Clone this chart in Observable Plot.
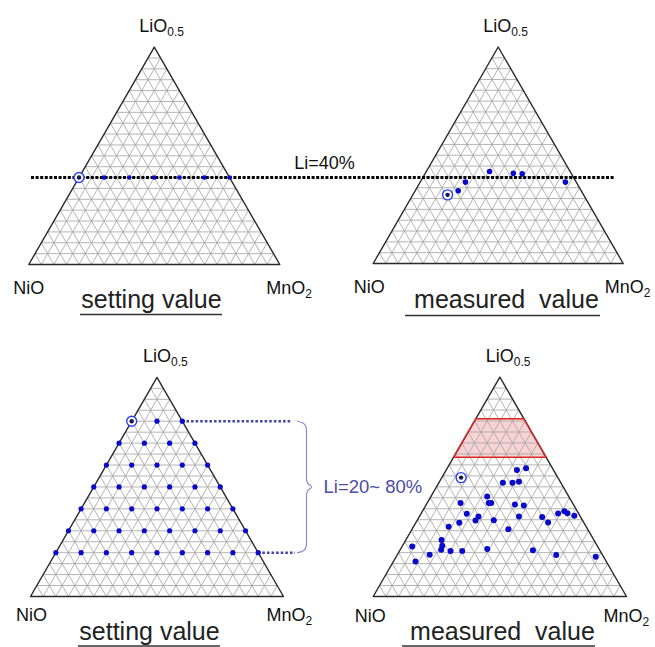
<!DOCTYPE html>
<html><head><meta charset="utf-8">
<script src="https://cdn.jsdelivr.net/npm/d3@7"></script>
<script src="https://cdn.jsdelivr.net/npm/@observablehq/plot@0.6"></script>
<style>
body{margin:0;background:#fff}
svg{display:block}
svg text{white-space:pre}
</style>
</head><body><div id="chart"></div>
<script>
// ---------------- DATA (ternary fractions: Li = LiO0.5, Mn = MnO2, Ni = NiO) ----------------
// Top-left: setting values on the Li = 40% line
const settingTopLi = [0.4, 0.4, 0.4, 0.4, 0.4, 0.4, 0.4];
const settingTopMn = [0.0, 0.1, 0.2, 0.3, 0.4, 0.5, 0.6];
const settingTopNi = [0.6, 0.5, 0.4, 0.3, 0.2, 0.1, 0.0];
const settingTopMarked = 0; // index of circled sample

// Top-right: measured values
const measuredTopLi = [0.317, 0.336, 0.376, 0.425, 0.417, 0.414, 0.376];
const measuredTopMn = [0.139, 0.172, 0.181, 0.253, 0.352, 0.389, 0.581];
const measuredTopNi = [0.544, 0.492, 0.443, 0.322, 0.231, 0.197, 0.043];
const measuredTopMarked = 0;

// Bottom-left: setting values, Li = 20 ~ 80 %
const settingBotLi = [0.8,0.8,0.8, 0.7,0.7,0.7,0.7, 0.6,0.6,0.6,0.6,0.6,
  0.5,0.5,0.5,0.5,0.5,0.5, 0.4,0.4,0.4,0.4,0.4,0.4,0.4,
  0.3,0.3,0.3,0.3,0.3,0.3,0.3,0.3, 0.2,0.2,0.2,0.2,0.2,0.2,0.2,0.2,0.2];
const settingBotMn = [0.0,0.1,0.2, 0.0,0.1,0.2,0.3, 0.0,0.1,0.2,0.3,0.4,
  0.0,0.1,0.2,0.3,0.4,0.5, 0.0,0.1,0.2,0.3,0.4,0.5,0.6,
  0.0,0.1,0.2,0.3,0.4,0.5,0.6,0.7, 0.0,0.1,0.2,0.3,0.4,0.5,0.6,0.7,0.8];
const settingBotNi = [0.2,0.1,0.0, 0.3,0.2,0.1,0.0, 0.4,0.3,0.2,0.1,0.0,
  0.5,0.4,0.3,0.2,0.1,0.0, 0.6,0.5,0.4,0.3,0.2,0.1,0.0,
  0.7,0.6,0.5,0.4,0.3,0.2,0.1,0.0, 0.8,0.7,0.6,0.5,0.4,0.3,0.2,0.1,0.0];
const settingBotMarked = 0;

// Bottom-right: measured values
const measuredBotLi = [0.542,0.577,0.585,0.518,0.518,0.523,0.456,0.426,0.426,0.426,0.419,0.415,
  0.377,0.365,0.346,0.365,0.348,0.336,0.318,0.307,0.362,0.337,0.378,0.389,0.380,0.368,
  0.258,0.231,0.213,0.207,0.207,0.217,0.228,0.190,0.160,0.211,0.189,0.181];
const measuredBotMn = [0.076,0.279,0.311,0.253,0.291,0.314,0.222,0.132,0.243,0.253,0.350,0.387,
  0.181,0.233,0.231,0.393,0.302,0.172,0.139,0.380,0.486,0.522,0.541,0.560,0.577,0.610,
  0.141,0.157,0.162,0.202,0.248,0.342,0.040,0.128,0.087,0.525,0.628,0.788];
const measuredBotNi = [0.382,0.144,0.104,0.229,0.191,0.163,0.322,0.442,0.331,0.321,0.231,0.198,
  0.442,0.402,0.423,0.242,0.350,0.492,0.543,0.313,0.152,0.141,0.081,0.051,0.043,0.022,
  0.601,0.612,0.625,0.591,0.545,0.441,0.732,0.682,0.753,0.264,0.183,0.031];
const measuredBotMarked = 0;

// Unreached Li band highlighted in the bottom-right diagram
const bandLi = [0.81, 0.635];

// Texts
const apexLabel = ["LiO", "0.5"];
const leftLabel = "NiO";
const rightLabel = ["MnO", "2"];
const captions = ["setting value", " measured  value", "setting value", " measured  value"];
const noteTop = "Li=40%";
const noteTopLi = 0.4;
const noteBottom = "Li=20~ 80%";
const noteBottomLi = [0.8, 0.2];

// ---------------- LAYOUT ----------------
const SQ = Math.sqrt(3) / 2;
const panels = [
  {id: "TL", x0: 28.3, base: 264, side: 251, nDx: 0, mDx: 25.5, lab: 29, ax: 13, ay: 15, capX: 151, capY: 307, ul: [80, 222], ulY: 314},
  {id: "TR", x0: 372.7, base: 263, side: 250, nDx: -4, mDx: 20.5, lab: 29, ax: 13, ay: 15, capX: 502.5, capY: 307, ul: [405, 600], ulY: 315},
  {id: "BL", x0: 30, base: 596, side: 253, nDx: 1, mDx: 22, lab: 24, ax: 14, ay: 15, capX: 149, capY: 639, ul: [78, 220], ulY: 645.5},
  {id: "BR", x0: 372.7, base: 596, side: 253.3, nDx: -3, mDx: 16, lab: 25, ax: 14, ay: 15, capX: 498.5, capY: 639, ul: [402, 595], ulY: 645.5}
];
const P = Object.fromEntries(panels.map(p => [p.id, p]));
const px = (p, li, mn) => p.x0 + (mn + li / 2) * p.side;
const py = (p, li) => p.base - li * p.side * SQ;

const gridSteps = 20;
const grid = [];
for (const p of panels) {
  for (let k = 1; k < gridSteps; k++) {
    const f = k / gridSteps;
    grid.push({x1: px(p, f, 0), y1: py(p, f), x2: px(p, f, 1 - f), y2: py(p, f)});
    grid.push({x1: px(p, 0, f), y1: py(p, 0), x2: px(p, 1 - f, f), y2: py(p, 1 - f)});
    grid.push({x1: px(p, 0, 1 - f), y1: py(p, 0), x2: px(p, 1 - f, 0), y2: py(p, 1 - f)});
  }
}
const outline = panels.flatMap(p => [[0, 0], [0, 1], [1, 0], [0, 0]].map(([li, mn]) => ({panel: p.id, x: px(p, li, mn), y: py(p, li)})));

const toPts = (p, li, mn) => li.map((l, i) => ({x: px(p, l, mn[i]), y: py(p, l)}));
const setTop = toPts(P.TL, settingTopLi, settingTopMn);
const meaTop = toPts(P.TR, measuredTopLi, measuredTopMn);
const setBot = toPts(P.BL, settingBotLi, settingBotMn);
const meaBot = toPts(P.BR, measuredBotLi, measuredBotMn);
const marked = [setTop[settingTopMarked], meaTop[measuredTopMarked], setBot[settingBotMarked], meaBot[measuredBotMarked]];

const band = bandLi.map(l => ({y: py(P.BR, l), x1: px(P.BR, l, 0), x2: px(P.BR, l, 1 - l)}));
const bandOutline = [[bandLi[0], 0], [bandLi[0], 1 - bandLi[0]], [bandLi[1], 1 - bandLi[1]], [bandLi[1], 0], [bandLi[0], 0]]
  .map(([l, m]) => ({x: px(P.BR, l, m), y: py(P.BR, l)}));

const liLineY = py(P.TL, noteTopLi);
const dottedBot = [
  {x1: px(P.BL, noteBottomLi[0], 1 - noteBottomLi[0]), y: py(P.BL, noteBottomLi[0]), x2: 292},
  {x1: px(P.BL, noteBottomLi[1], 1 - noteBottomLi[1]), y: py(P.BL, noteBottomLi[1]), x2: 295}
];
const yT = py(P.BL, noteBottomLi[0]), yB = py(P.BL, noteBottomLi[1]), yM = (yT + yB) / 2;
const brace = [[297, yT], [302, yT + 1.5], [305, yT + 4.5], [306, yT + 9], [306, yM - 9], [307, yM - 4], [311, yM],
  [307, yM + 4], [306, yM + 9], [306, yB - 9], [305, yB - 4.5], [302, yB - 1.5], [297, yB]].map(([x, y]) => ({x, y}));

const apexTxt = panels.map(p => ({x: px(p, 1, 0) + p.ax, y: py(p, 1) - p.ay}));
const leftTxt = panels.map(p => ({x: px(p, 0, 0) + p.nDx, y: p.base + p.lab}));
const rightTxt = panels.map(p => ({x: px(p, 0, 1) + p.mDx, y: p.base + p.lab}));
const capTxt = panels.map((p, i) => ({x: p.capX, y: p.capY, t: captions[i]}));
const underlines = panels.map(p => ({y: p.ulY, x1: p.ul[0], x2: p.ul[1]}));

const blue = "#0a0acd";
const font = "Liberation Sans, Arial, Helvetica, sans-serif";

const chart = Plot.plot({
  width: 655, height: 647, margin: 0,
  x: {domain: [0, 655], range: [0, 655], axis: null},
  y: {domain: [0, 647], range: [0, 647], axis: null},
  style: {fontFamily: font, background: "#fff", color: "#111"},
  marks: [
    Plot.areaX(band, {y: "y", x1: "x1", x2: "x2", fill: "#f3b6b6", fillOpacity: 0.6}),
    Plot.link(grid, {x1: "x1", y1: "y1", x2: "x2", y2: "y2", stroke: "#a6a6a6", strokeWidth: 0.85}),
    Plot.line(outline, {x: "x", y: "y", z: "panel", stroke: "#2a2a2a", strokeWidth: 1.4}),
    Plot.line(bandOutline, {x: "x", y: "y", stroke: "#e02525", strokeWidth: 1.4}),
    // annotation lines
    Plot.ruleY([liLineY], {x1: 31, x2: 615, stroke: "#000", strokeWidth: 3, strokeDasharray: "3,1.6"}),
    Plot.ruleY(dottedBot, {y: "y", x1: "x1", x2: "x2", stroke: "#4848a4", strokeWidth: 2.6, strokeDasharray: "2.6,2"}),
    Plot.line(brace, {x: "x", y: "y", curve: "monotone-y", stroke: "#8a8ad0", strokeWidth: 1.2}),
    // data
    Plot.dot(setTop, {x: "x", y: "y", r: 2.3, fill: blue}),
    Plot.dot(meaTop, {x: "x", y: "y", r: 2.8, fill: blue}),
    Plot.dot(setBot, {x: "x", y: "y", r: 2.6, fill: blue}),
    Plot.dot(meaBot, {x: "x", y: "y", r: 3, fill: blue}),
    Plot.dot(marked, {x: "x", y: "y", r: 5, fill: "#fff", stroke: "#2d40ff", strokeWidth: 1.4}),
    Plot.dot(marked, {x: "x", y: "y", r: 2.2, fill: "#161650"}),
    // texts
    Plot.text(apexTxt, {x: "x", y: "y", text: () => apexLabel[0], textAnchor: "end", lineAnchor: "bottom", fontSize: 18, fill: "#111"}),
    Plot.text(apexTxt, {x: "x", y: d => d.y + 4, text: () => apexLabel[1], textAnchor: "start", lineAnchor: "bottom", fontSize: 12, fill: "#111"}),
    Plot.text(leftTxt, {x: "x", y: "y", text: () => leftLabel, textAnchor: "middle", lineAnchor: "bottom", fontSize: 18, fill: "#111"}),
    Plot.text(rightTxt, {x: "x", y: "y", text: () => rightLabel[0], textAnchor: "end", lineAnchor: "bottom", fontSize: 18, fill: "#111"}),
    Plot.text(rightTxt, {x: "x", y: d => d.y + 4, text: () => rightLabel[1], textAnchor: "start", lineAnchor: "bottom", fontSize: 12, fill: "#111"}),
    Plot.text(capTxt, {x: "x", y: "y", text: "t", textAnchor: "middle", lineAnchor: "bottom", fontSize: 25, fill: "#222"}),
    Plot.ruleY(underlines, {y: "y", x1: "x1", x2: "x2", stroke: "#333", strokeWidth: 1.5}),
    Plot.text([noteTop], {x: 324, y: 168, text: d => d, textAnchor: "middle", lineAnchor: "bottom", fontSize: 18, fill: "#111"}),
    Plot.text([noteBottom], {x: 323, y: yM + 6, text: d => d, textAnchor: "start", lineAnchor: "bottom", fontSize: 18.5, fill: "#4c4ca8"})
  ]
});
document.getElementById("chart").appendChild(chart);
</script>
</body></html>
